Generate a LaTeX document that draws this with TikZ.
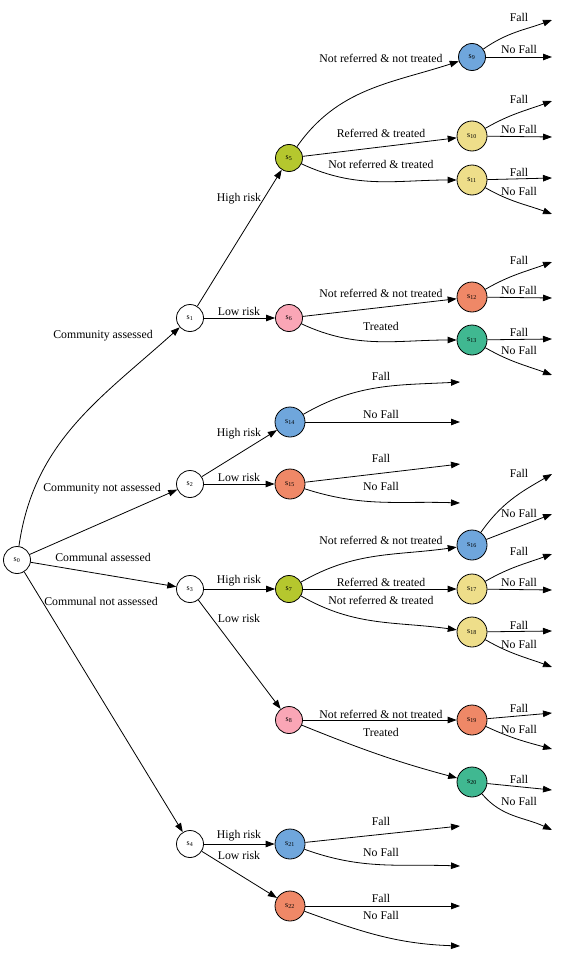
\documentclass[tikz,border=0pt]{standalone}
\usepackage{fontspec}
\setmainfont{Liberation Serif}
\usetikzlibrary{arrows.meta}
\definecolor{st_lime}{RGB}{181, 199, 46}
\definecolor{st_blue}{RGB}{111, 166, 220}
\definecolor{st_yellow}{RGB}{238, 222, 138}
\definecolor{st_pink}{RGB}{250, 166, 182}
\definecolor{st_salmon}{RGB}{239, 136, 103}
\definecolor{st_teal}{RGB}{64, 184, 145}
\tikzstyle{sn}=[circle,draw=black,fill=white,line width=0.8pt,inner sep=0pt,
  minimum size=27pt,font=\fontsize{8}{9}\selectfont]
\tikzstyle{sw}=[sn,minimum size=30pt]
\tikzstyle{lbl}=[inner sep=0pt,font=\fontsize{11.8}{13}\selectfont]
\tikzstyle{arc}=[-{Triangle[length=9pt,width=6.5pt]},line width=0.8pt]

\begin{document}
\begin{tikzpicture}[x=1pt,y=-1pt]
    \useasboundingbox (0,0) rectangle (581,963);
    % states
    \node [style=sn] (s0) at (17,560) {s\textsubscript{0}};
    \node [style=sn] (s1) at (190,318) {s\textsubscript{1}};
    \node [style=sn] (s2) at (190,484) {s\textsubscript{2}};
    \node [style=sn] (s3) at (190,589) {s\textsubscript{3}};
    \node [style=sn] (s4) at (190,844) {s\textsubscript{4}};
    \node [style=sn, fill=st_lime] (s5) at (289,158) {s\textsubscript{5}};
    \node [style=sn, fill=st_pink] (s6) at (289,318) {s\textsubscript{6}};
    \node [style=sn, fill=st_lime] (s7) at (289,589) {s\textsubscript{7}};
    \node [style=sn, fill=st_pink] (s8) at (289,720) {s\textsubscript{8}};
    \node [style=sn, fill=st_blue] (s9) at (472,57) {s\textsubscript{9}};
    \node [style=sw, fill=st_yellow] (s10) at (472,136) {s\textsubscript{10}};
    \node [style=sw, fill=st_yellow] (s11) at (472,180) {s\textsubscript{11}};
    \node [style=sw, fill=st_salmon] (s12) at (472,297) {s\textsubscript{12}};
    \node [style=sw, fill=st_teal] (s13) at (472,340) {s\textsubscript{13}};
    \node [style=sw, fill=st_blue] (s14) at (290,422) {s\textsubscript{14}};
    \node [style=sw, fill=st_salmon] (s15) at (290,484) {s\textsubscript{15}};
    \node [style=sw, fill=st_blue] (s16) at (472,545) {s\textsubscript{16}};
    \node [style=sw, fill=st_yellow] (s17) at (472,589) {s\textsubscript{17}};
    \node [style=sw, fill=st_yellow] (s18) at (472,632) {s\textsubscript{18}};
    \node [style=sw, fill=st_salmon] (s19) at (472,720) {s\textsubscript{19}};
    \node [style=sw, fill=st_teal] (s20) at (472,782) {s\textsubscript{20}};
    \node [style=sw, fill=st_blue] (s21) at (290,844) {s\textsubscript{21}};
    \node [style=sw, fill=st_salmon] (s22) at (290,906) {s\textsubscript{22}};
    % outcome ends
    \coordinate (f9) at (552,20);   \coordinate (n9) at (552,57);
    \coordinate (f10) at (552,101); \coordinate (n10) at (552,137);
    \coordinate (f11) at (552,178); \coordinate (n11) at (552,214);
    \coordinate (f12) at (552,262); \coordinate (n12) at (552,298);
    \coordinate (f13) at (552,339); \coordinate (n13) at (552,375);
    \coordinate (f14) at (460,382); \coordinate (n14) at (460,422);
    \coordinate (f15) at (460,464); \coordinate (n15) at (460,503);
    \coordinate (f16) at (552,474); \coordinate (n16) at (552,514);
    \coordinate (f17) at (552,554); \coordinate (n17) at (552,590);
    \coordinate (f18) at (552,631); \coordinate (n18) at (552,667);
    \coordinate (f19) at (552,713); \coordinate (n19) at (552,749);
    \coordinate (f20) at (552,790); \coordinate (n20) at (552,830);
    \coordinate (f21) at (460,826); \coordinate (n21) at (460,866);
    \coordinate (f22) at (460,906); \coordinate (n22) at (460,946);
    % labels
    \node [style=lbl] (l1) at (103,336) {Community assessed};
    \node [style=lbl] (l2) at (102,489) {Community not assessed};
    \node [style=lbl] (l3) at (103,557) {Communal assessed};
    \node [style=lbl] (l4) at (101,601) {Communal not assessed};
    \node [style=lbl] (l5) at (239,199) {High risk};
    \node [style=lbl] (l6) at (239,311) {Low risk};
    \node [style=lbl] (l14) at (239,434) {High risk};
    \node [style=lbl] (l15) at (239,477) {Low risk};
    \node [style=lbl] (l7) at (239,581) {High risk};
    \node [style=lbl] (l8) at (239,618) {Low risk};
    \node [style=lbl] (l21) at (239,836) {High risk};
    \node [style=lbl] (l22) at (239,855) {Low risk};
    \node [style=lbl] (l9) at (381,58) {Not referred \& not treated};
    \node [style=lbl] (l10) at (381,133) {Referred \& treated};
    \node [style=lbl] (l11) at (381,164) {Not referred \& treated};
    \node [style=lbl] (l12) at (381,293) {Not referred \& not treated};
    \node [style=lbl] (l13) at (381,326) {Treated};
    \node [style=lbl] (l16) at (381,540) {Not referred \& not treated};
    \node [style=lbl] (l17) at (381,582) {Referred \& treated};
    \node [style=lbl] (l18) at (381,600) {Not referred \& treated};
    \node [style=lbl] (l19) at (381,714) {Not referred \& not treated};
    \node [style=lbl] (l20) at (381,732) {Treated};
    \node [style=lbl] (lf9) at (519,17) {Fall};
    \node [style=lbl] (ln9) at (519,49) {No Fall};
    \node [style=lbl] (lf10) at (519,99) {Fall};
    \node [style=lbl] (ln10) at (519,129) {No Fall};
    \node [style=lbl] (lf11) at (519,172) {Fall};
    \node [style=lbl] (ln11) at (519,191) {No Fall};
    \node [style=lbl] (lf12) at (519,260) {Fall};
    \node [style=lbl] (ln12) at (519,290) {No Fall};
    \node [style=lbl] (lf13) at (519,332) {Fall};
    \node [style=lbl] (ln13) at (519,350) {No Fall};
    \node [style=lbl] (lf14) at (381,376) {Fall};
    \node [style=lbl] (ln14) at (381,414) {No Fall};
    \node [style=lbl] (lf15) at (381,458) {Fall};
    \node [style=lbl] (ln15) at (381,486) {No Fall};
    \node [style=lbl] (lf16) at (519,473) {Fall};
    \node [style=lbl] (ln16) at (519,513) {No Fall};
    \node [style=lbl] (lf17) at (519,551) {Fall};
    \node [style=lbl] (ln17) at (519,582) {No Fall};
    \node [style=lbl] (lf18) at (519,625) {Fall};
    \node [style=lbl] (ln18) at (519,644) {No Fall};
    \node [style=lbl] (lf19) at (519,708) {Fall};
    \node [style=lbl] (ln19) at (519,729) {No Fall};
    \node [style=lbl] (lf20) at (519,779) {Fall};
    \node [style=lbl] (ln20) at (519,801) {No Fall};
    \node [style=lbl] (lf21) at (381,821) {Fall};
    \node [style=lbl] (ln21) at (381,852) {No Fall};
    \node [style=lbl] (lf22) at (381,898) {Fall};
    \node [style=lbl] (ln22) at (381,915) {No Fall};
    % branches
    \draw [style=arc] (s0) to[out=82,in=222] (s1);
    \draw [style=arc] (s0) to (s2);
    \draw [style=arc] (s0) to (s3);
    \draw [style=arc] (s0) to (s4);
    \draw [style=arc] (s1) to (s5);
    \draw [style=arc] (s1) to (s6);
    \draw [style=arc] (s2) to (s14);
    \draw [style=arc] (s2) to (s15);
    \draw [style=arc] (s3) to (s7);
    \draw [style=arc] (s3) to (s8);
    \draw [style=arc] (s4) to (s21);
    \draw [style=arc] (s4) to (s22);
    \draw [style=arc] (s5) to[out=55,in=198] (s9);
    \draw [style=arc] (s5) to (s10);
    \draw [style=arc] (s5) to[out=-25,in=180] (s11);
    \draw [style=arc] (s6) to (s12);
    \draw [style=arc] (s6) to[out=-25,in=180] (s13);
    \draw [style=arc] (s7) to[out=30,in=188] (s16);
    \draw [style=arc] (s7) to (s17);
    \draw [style=arc] (s7) to[out=-30,in=172] (s18);
    \draw [style=arc] (s8) to (s19);
    \draw [style=arc] (s8) to[out=-22,in=165] (s20);
    % outcomes
    \draw [style=arc] (s9) to[out=35,in=200] (f9);
    \draw [style=arc] (s9) to (n9);
    \draw [style=arc] (s10) to[out=30,in=200] (f10);
    \draw [style=arc] (s10) to (n10);
    \draw [style=arc] (s11) to (f11);
    \draw [style=arc] (s11) to[out=-30,in=160] (n11);
    \draw [style=arc] (s12) to[out=30,in=200] (f12);
    \draw [style=arc] (s12) to (n12);
    \draw [style=arc] (s13) to (f13);
    \draw [style=arc] (s13) to[out=-30,in=160] (n13);
    \draw [style=arc] (s14) to[out=30,in=183] (f14);
    \draw [style=arc] (s14) to (n14);
    \draw [style=arc] (s15) to (f15);
    \draw [style=arc] (s15) to[out=-18,in=178] (n15);
    \draw [style=arc] (s16) to[out=55,in=210] (f16);
    \draw [style=arc] (s16) to (n16);
    \draw [style=arc] (s17) to[out=30,in=200] (f17);
    \draw [style=arc] (s17) to (n17);
    \draw [style=arc] (s18) to (f18);
    \draw [style=arc] (s18) to[out=-30,in=160] (n18);
    \draw [style=arc] (s19) to (f19);
    \draw [style=arc] (s19) to[out=-25,in=165] (n19);
    \draw [style=arc] (s20) to (f20);
    \draw [style=arc] (s20) to[out=-50,in=155] (n20);
    \draw [style=arc] (s21) to (f21);
    \draw [style=arc] (s21) to[out=-20,in=178] (n21);
    \draw [style=arc] (s22) to (f22);
    \draw [style=arc] (s22) to[out=-20,in=178] (n22);
\end{tikzpicture}
\end{document}
